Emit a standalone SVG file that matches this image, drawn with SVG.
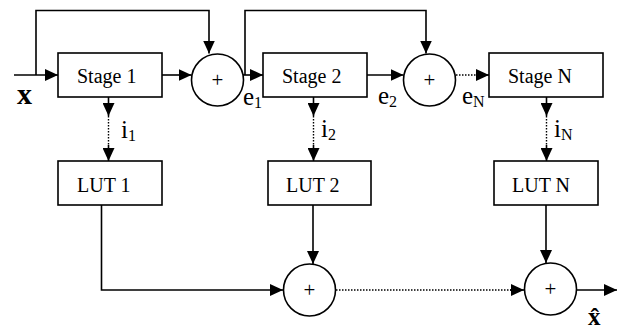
<svg xmlns="http://www.w3.org/2000/svg" width="617" height="332" viewBox="0 0 617 332">
<defs>
<marker id="arr" markerUnits="userSpaceOnUse" markerWidth="13" markerHeight="12" refX="13" refY="6" orient="auto">
<path d="M0,0 L13,6 L0,12 z" fill="#000"/>
</marker>
<style>
.box{fill:#fff;stroke:#000;stroke-width:1.6}
.sum{fill:#fff;stroke:#000;stroke-width:1.6}
.ln{fill:none;stroke:#000;stroke-width:1.6}
.dot{fill:none;stroke:#000;stroke-width:1.4;stroke-dasharray:1.5 1.5}
.t{font-family:"Liberation Serif","Times New Roman",serif;font-size:20px;fill:#000}
.plus{font-family:"Liberation Serif","Times New Roman",serif;font-size:21px;fill:#000;text-anchor:middle}
.lbl{font-family:"Liberation Serif","Times New Roman",serif;font-size:25px;fill:#000}
.sub{font-size:16px}
.bx{font-family:"Liberation Serif","Times New Roman",serif;font-size:30px;font-weight:bold;fill:#000}
.bx2{font-family:"Liberation Serif","Times New Roman",serif;font-size:25px;font-weight:bold;fill:#000}
</style>
</defs>
<rect width="617" height="332" fill="#fff"/>
<g id="connectors">
<path class="ln" d="M14,75 H58" marker-end="url(#arr)"/>
<path class="ln" d="M36,75 V10.5 H209 V53.5" marker-end="url(#arr)"/>
<path class="ln" d="M162,75 H191.5" marker-end="url(#arr)"/>
<path class="ln" d="M243,75 H263" marker-end="url(#arr)"/>
<path class="ln" d="M245,75 V10.5 H426 V53.5" marker-end="url(#arr)"/>
<path class="ln" d="M367,75 H403.5" marker-end="url(#arr)"/>
<path class="dot" d="M456,75 H477"/>
<path class="ln" d="M476,75 H489" marker-end="url(#arr)"/>
<path class="ln" d="M108.5,97 V116" marker-end="url(#arr)"/>
<path class="dot" d="M108.5,116 V146"/>
<path class="ln" d="M108.5,145 V161" marker-end="url(#arr)"/>
<path class="ln" d="M313.5,97 V116" marker-end="url(#arr)"/>
<path class="dot" d="M313.5,116 V146"/>
<path class="ln" d="M313.5,145 V161" marker-end="url(#arr)"/>
<path class="ln" d="M546.5,97 V116" marker-end="url(#arr)"/>
<path class="dot" d="M546.5,116 V146"/>
<path class="ln" d="M546.5,145 V161" marker-end="url(#arr)"/>
<path class="ln" d="M101.5,205 V290 H283" marker-end="url(#arr)"/>
<path class="ln" d="M313,205 V264" marker-end="url(#arr)"/>
<path class="dot" d="M336,290 H511"/>
<path class="ln" d="M510,290 H524" marker-end="url(#arr)"/>
<path class="ln" d="M546,205 V263" marker-end="url(#arr)"/>
<path class="ln" d="M576,290 H617" marker-end="url(#arr)"/>
</g>
<g id="stage1"><rect class="box" x="58" y="53" width="104" height="44"/><text class="t" x="77" y="83">Stage 1</text></g>
<g id="stage2"><rect class="box" x="263" y="53" width="104" height="44"/><text class="t" x="282" y="83">Stage 2</text></g>
<g id="stageN"><rect class="box" x="489" y="53" width="114" height="44"/><text class="t" x="508" y="83">Stage N</text></g>
<g id="lut1"><rect class="box" x="58" y="161" width="104" height="44"/><text class="t" x="77" y="191.5">LUT 1</text></g>
<g id="lut2"><rect class="box" x="268" y="161" width="103" height="44"/><text class="t" x="286" y="191.5">LUT 2</text></g>
<g id="lutN"><rect class="box" x="494" y="161" width="104" height="44"/><text class="t" x="512" y="191.5">LUT N</text></g>
<g id="sum1"><circle class="sum" cx="217.5" cy="80" r="26"/><text class="plus" x="217.5" y="87">+</text></g>
<g id="sum2"><circle class="sum" cx="429.5" cy="80" r="26"/><text class="plus" x="429.5" y="87">+</text></g>
<g id="sum3"><circle class="sum" cx="309.5" cy="290" r="26"/><text class="plus" x="309.5" y="297">+</text></g>
<g id="sum4"><circle class="sum" cx="550.5" cy="289" r="26"/><text class="plus" x="550.5" y="296">+</text></g>
<g id="labels">
<text class="bx" x="17" y="103.5">x</text>
<text class="lbl" x="243" y="105">e<tspan class="sub" dy="3">1</tspan></text>
<text class="lbl" x="378" y="104">e<tspan class="sub" dy="3">2</tspan></text>
<text class="lbl" x="462" y="104">e<tspan class="sub" dy="3">N</tspan></text>
<text class="lbl" x="121" y="138">i<tspan class="sub" dy="3">1</tspan></text>
<text class="lbl" x="321" y="137">i<tspan class="sub" dy="3">2</tspan></text>
<text class="lbl" x="554" y="137">i<tspan class="sub" dy="3">N</tspan></text>
<text class="bx2" x="588" y="325">x̂</text>
</g>
</svg>
